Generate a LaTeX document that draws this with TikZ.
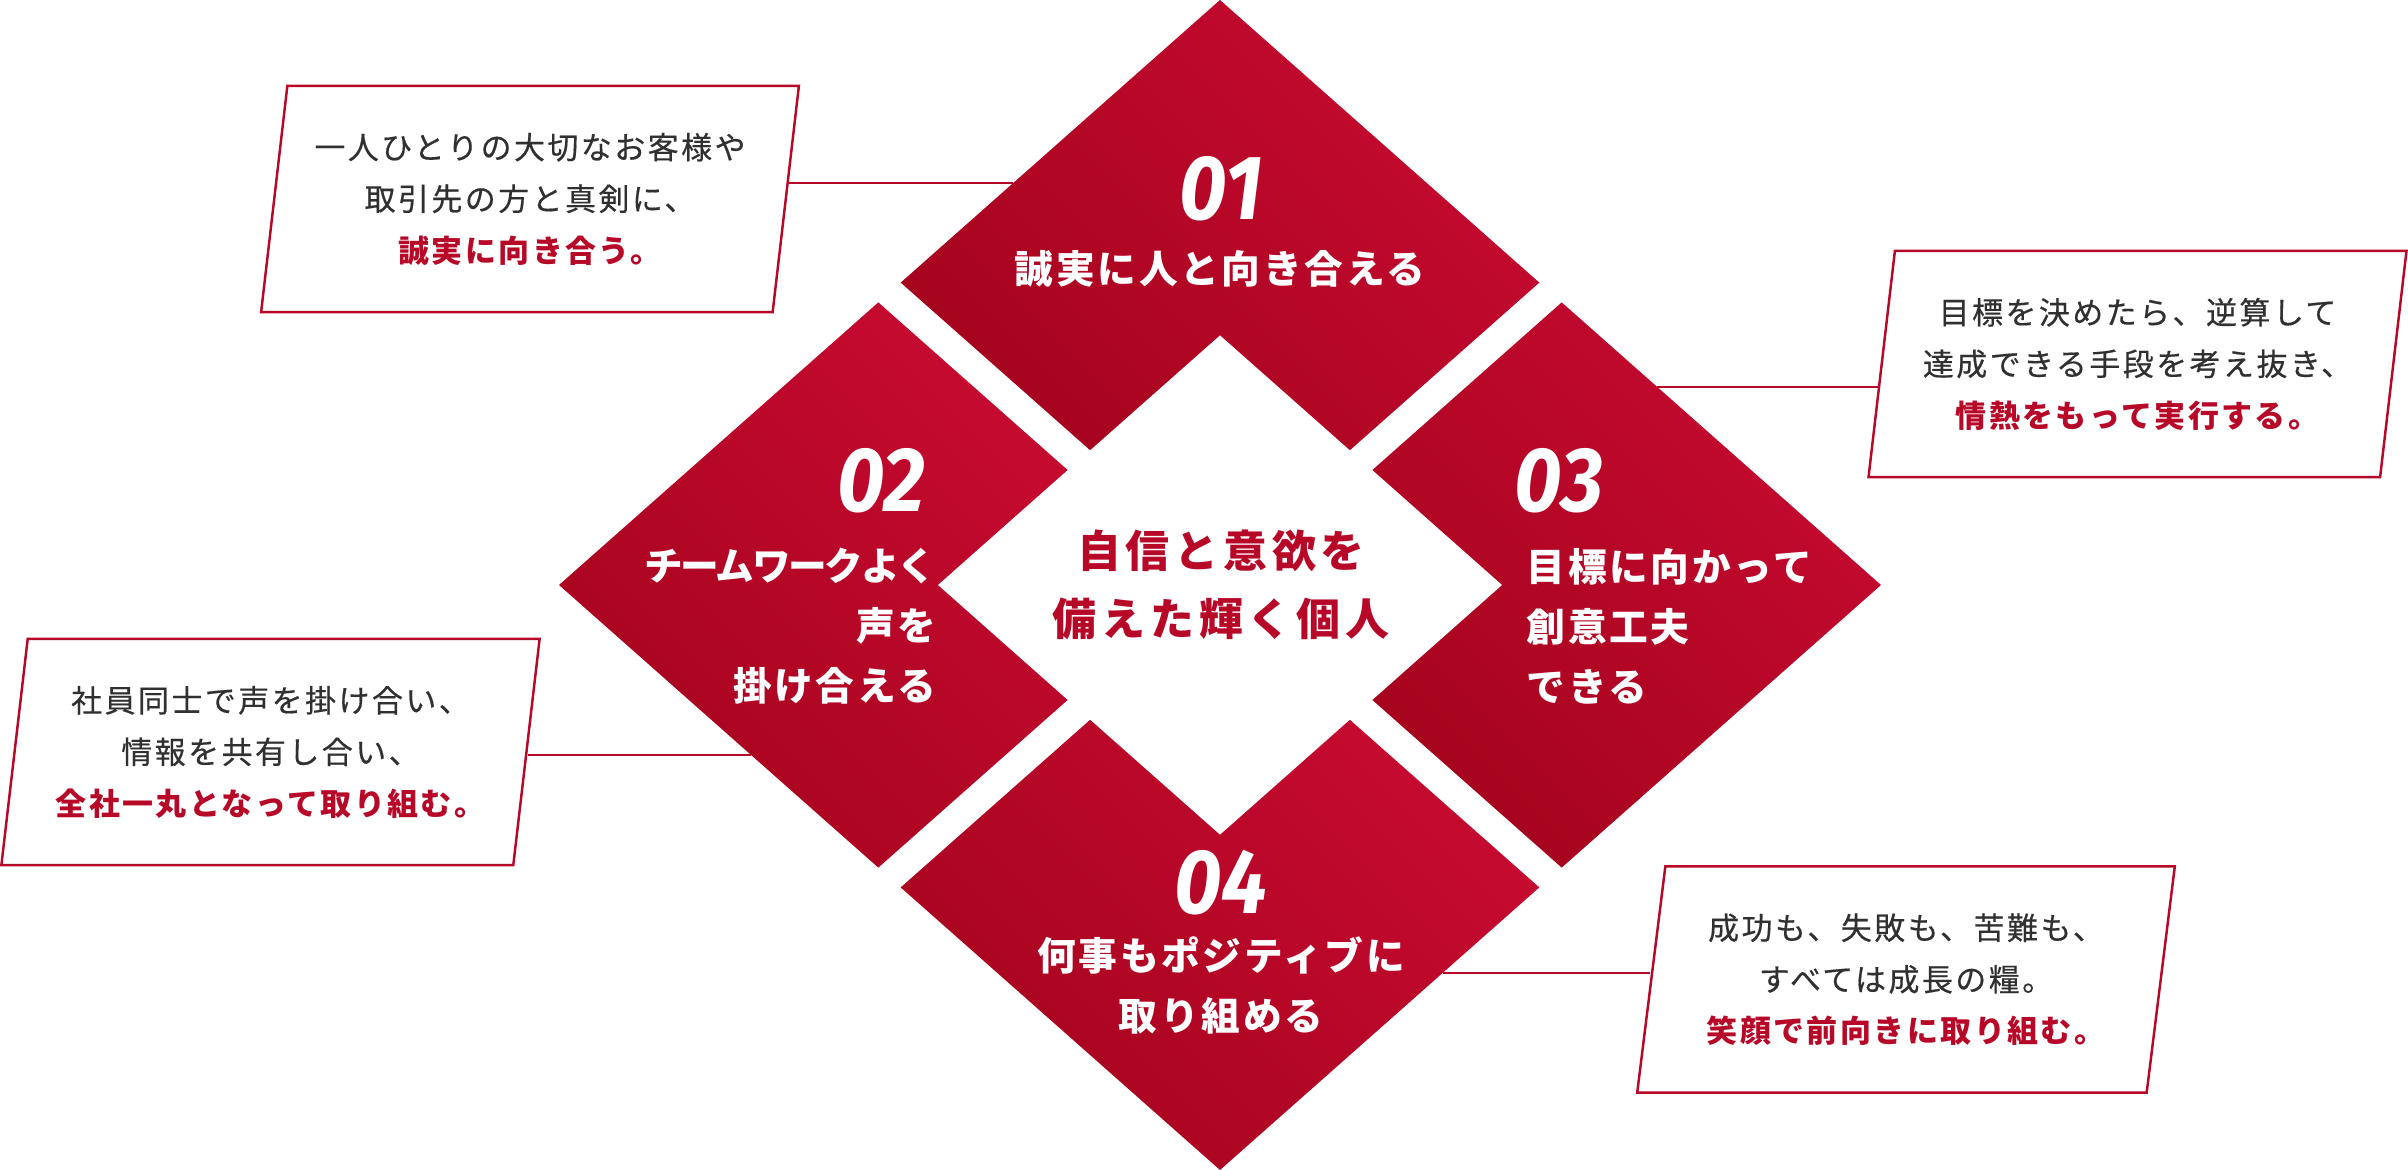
\documentclass[tikz,border=0pt]{standalone}
\usepackage{fontspec}
\setmainfont{Noto Sans CJK JP}
\newfontfamily\numfont[FakeStretch=0.9]{Fira Sans}
\newfontfamily\boxfont[FakeBold=0.4, LetterSpace=8]{Noto Sans CJK JP}
\newfontfamily\boxredfont[LetterSpace=8]{Noto Sans CJK JP}
\usepackage{tikz}
\usetikzlibrary{shapes.geometric,backgrounds,positioning}
\usepackage{xcolor}
\definecolor{crimson}{RGB}{183,8,40}
\definecolor{crimsondark}{RGB}{166,4,30}
\definecolor{crimsonlight}{RGB}{198,10,48}
\definecolor{inkgray}{RGB}{48,48,48}

\begin{document}
\begin{tikzpicture}[x=0.01cm, y=-0.01cm,
    piece/.style={top color=crimsonlight, bottom color=crimsondark, shading angle=-45},
    infobox/.style={trapezium, trapezium left angle=80, trapezium right angle=100,
        trapezium stretches=true, draw=crimson, line width=0.7pt, fill=white,
        minimum width=5.38cm, minimum height=2.26cm, inner sep=0pt, align=center,
        text=inkgray, font=\boxfont\fontsize{8.8}{14.65}\selectfont},
    numlabel/.style={text=white, inner sep=0pt, font=\numfont\fontsize{26}{26}\selectfont\bfseries\itshape},
    title/.style={text=white, inner sep=0pt, align=center,
        font=\fontsize{11}{17.07}\selectfont\bfseries\addfontfeature{LetterSpace=7}},
    link/.style={draw=crimson, line width=0.6pt}]

    \useasboundingbox (0,0) rectangle (2408,1170);

    % Diamond pieces
    \shade[piece] (1220,0) -- (900.7,282.6) -- (1090.1,450.2) -- (1220,335.2)
        -- (1349.9,450.2) -- (1539.3,282.6) -- cycle;
    \shade[piece] (559,585) -- (878.3,302.4) -- (1067.6,470) -- (937.8,585)
        -- (1067.6,700) -- (878.3,867.6) -- cycle;
    \shade[piece] (1881,585) -- (1561.7,302.4) -- (1372.4,470) -- (1502.2,585)
        -- (1372.4,700) -- (1561.7,867.6) -- cycle;
    \shade[piece] (1220,1170) -- (900.7,887.4) -- (1090.1,719.8) -- (1220,834.8)
        -- (1349.9,719.8) -- (1539.3,887.4) -- cycle;

    % Center
    \node[text=crimson, inner sep=0pt, align=center,
          font=\fontsize{12.5}{19.35}\selectfont\bfseries\addfontfeature{LetterSpace=11}]
          (core) at (1221,585) {自信と意欲を\\備えた輝く個人};

    % Piece labels
    \node[numlabel] (n1) at (1221,189) {01};
    \node[title] (t1) at (1220,269) {誠実に人と向き合える};

    \node[numlabel, anchor=east] (n2) at (926,481) {02};
    \node[title, align=right, anchor=east] (t2) at (937,626)
        {{\addfontfeature{LetterSpace=-6}チームワークよく}\\声を\\掛け合える};

    \node[numlabel, anchor=west] (n3) at (1514,481) {03};
    \node[title, align=left, anchor=west] (t3) at (1526,626) {目標に向かって\\創意工夫\\できる};

    \node[numlabel] (n4) at (1221,883) {04};
    \node[title] (t4) at (1221,985) {何事もポジティブに\\取り組める};

    % Boxes
    \node[infobox] (b1) at (530,199) {一人ひとりの大切なお客様や\\取引先の方と真剣に、\\\textcolor{crimson}{\boxredfont\bfseries 誠実に向き合う。}};
    \node[infobox] (b2) at (270.5,752) {社員同士で声を掛け合い、\\情報を共有し合い、\\\textcolor{crimson}{\boxredfont\bfseries 全社一丸となって取り組む。}};
    \node[infobox] (b3) at (2137.5,364) {目標を決めたら、逆算して\\達成できる手段を考え抜き、\\\textcolor{crimson}{\boxredfont\bfseries 情熱をもって実行する。}};
    \node[infobox] (b4) at (1906,979.5) {成功も、失敗も、苦難も、\\すべては成長の糧。\\\textcolor{crimson}{\boxredfont\bfseries 笑顔で前向きに取り組む。}};

    % Connectors
    \coordinate (e1) at (1013,183);
    \coordinate (e2) at (751,755);
    \coordinate (e3) at (1657,387);
    \coordinate (e4) at (1443,973);
    \begin{scope}[on background layer]
        \draw[link] (b1.east |- e1) -- (e1);
        \draw[link] (b2.east |- e2) -- (e2);
        \draw[link] (b3.west |- e3) -- (e3);
        \draw[link] (b4.west |- e4) -- (e4);
    \end{scope}
\end{tikzpicture}
\end{document}
